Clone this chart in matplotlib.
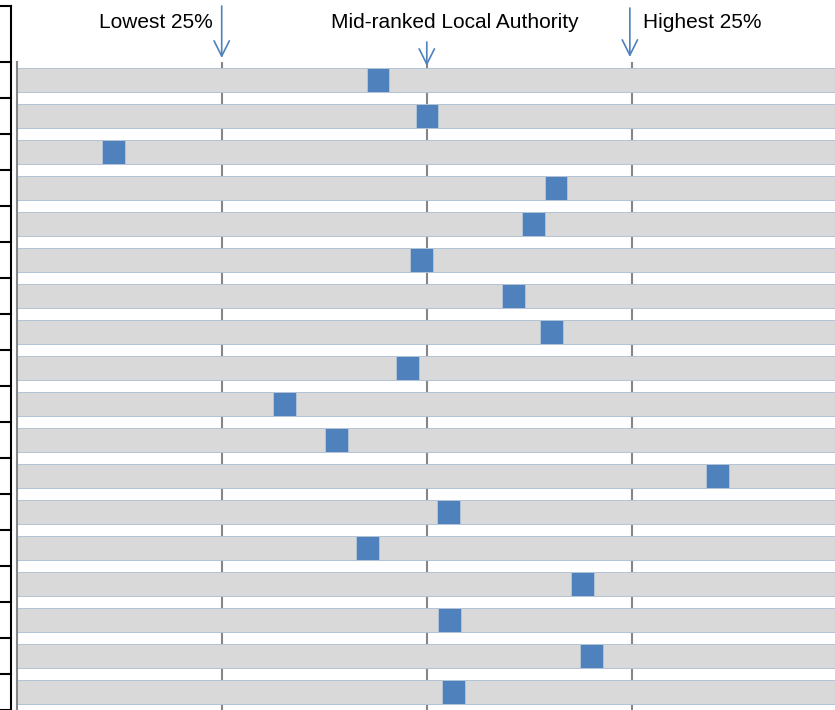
import numpy as np
import matplotlib
matplotlib.use('Agg')
import matplotlib.pyplot as plt
from matplotlib.lines import Line2D
import matplotlib.transforms as mtransforms

plt.rcParams['font.family'] = ['Liberation Sans', 'DejaVu Sans']

# --- data: where each authority sits on the quartile scale (rows top -> bottom) ---
positions = np.array([1.706, 1.945, 0.415, 2.574, 2.462, 1.920, 2.366, 2.550, 1.849,
                      1.250, 1.506, 3.362, 2.049, 1.657, 2.701, 2.057, 2.748, 2.072])
marker_width = 0.112
scale_max = 4.0
quartile_lines = [1, 2, 3]
header_labels = ["Lowest 25%", "Mid-ranked Local Authority", "Highest 25%"]

# --- palette ---
GREY = "#d9d9d9"
BLUE = "#4f81bd"
EDGE = "#b3c3d7"
GRID = "#868686"

W, H = 835, 710
fig = plt.figure(figsize=(W / 100, H / 100), dpi=100)
ax = fig.add_axes([16.6 / W, 0, 820.4 / W, (H - 62) / H])

rows = np.arange(len(positions))
bar_h = 0.65
ax.barh(rows, positions, height=bar_h, color=GREY, edgecolor=EDGE, lw=0.7, zorder=2)
ax.barh(rows, marker_width, left=positions, height=bar_h, color=BLUE, edgecolor=EDGE, lw=0.7, zorder=3)
rest_left = positions + marker_width
ax.barh(rows, scale_max - rest_left, left=rest_left, height=bar_h, color=GREY,
        edgecolor=EDGE, lw=0.7, zorder=2)

ax.set_xlim(0, scale_max)
ax.set_ylim(len(positions) - 0.5, -0.5)
ax.set_xticks(quartile_lines)
ax.set_xticklabels([])
ax.set_yticks([])
ax.tick_params(length=0)
ax.grid(axis='x', color=GRID, lw=1.5, zorder=0)
ax.set_axisbelow(True)
for s in ['top', 'right', 'bottom']:
    ax.spines[s].set_visible(False)
ax.spines['left'].set_color(GRID)
ax.spines['left'].set_linewidth(1.5)

# --- header arrows + labels ---
arrow_kw = dict(arrowstyle='->,head_length=1.1,head_width=0.55', color=BLUE, lw=1.2,
                shrinkA=0, shrinkB=0, mutation_scale=10)
coords = ('data', 'figure pixels')
# (x on scale, arrow start px from top, arrow tip px from top)
arrow_specs = [(1.0, 6, 58), (2.0, 42, 66), (2.99, 8, 57)]
for x, y0, y1 in arrow_specs:
    ax.annotate('', xy=(x, H - y1), xycoords=coords, xytext=(x, H - y0), textcoords=coords,
                arrowprops=arrow_kw, annotation_clip=False)

ax.annotate(header_labels[0], xy=(0.958, H - 28), xycoords=coords, ha='right', va='baseline',
            fontsize=15, annotation_clip=False)
ax.annotate(header_labels[1], xy=(2.135, H - 28), xycoords=coords, ha='center', va='baseline',
            fontsize=15, annotation_clip=False)
ax.annotate(header_labels[2], xy=(3.053, H - 28), xycoords=coords, ha='left', va='baseline',
            fontsize=15, annotation_clip=False)

# --- left table border (cropped label column) ---
fig.add_artist(Line2D([11 / W, 11 / W], [0, (H - 6) / H], color='black', lw=1.5))
fig.add_artist(Line2D([0, 11 / W], [(H - 6) / H, (H - 6) / H], color='black', lw=1.5))
blend = mtransforms.blended_transform_factory(fig.transFigure, ax.transData)
for k in range(len(positions) + 1):
    fig.add_artist(Line2D([0, 11 / W], [k - 0.5, k - 0.5], color='black', lw=1.5,
                          transform=blend))

fig.savefig('out.png', dpi=100, facecolor='white')
